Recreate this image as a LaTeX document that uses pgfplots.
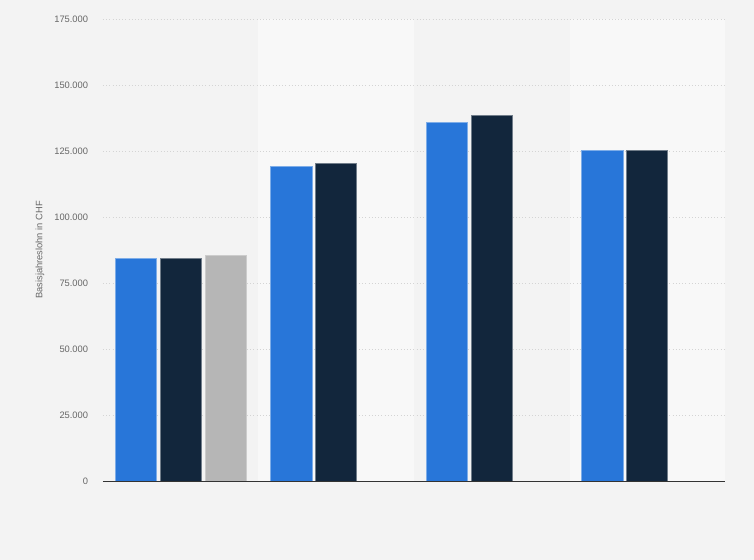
\documentclass[border=0pt]{standalone}
\usepackage{pgfplots}
\pgfplotsset{compat=1.18}
\usepackage{fontspec}
\setmainfont{Liberation Sans}

\definecolor{pagebg}{HTML}{F3F3F3}
\definecolor{bandlight}{HTML}{F8F8F8}
\definecolor{barblue}{HTML}{2876D9}
\definecolor{barnavy}{HTML}{12263C}
\definecolor{bargray}{HTML}{B6B6B6}
\definecolor{ticktext}{HTML}{666666}
\definecolor{gridcol}{HTML}{D4D4D4}

\begin{document}
\begin{tikzpicture}
\begin{axis}[
    name=ax,
    set layers,
    scale only axis,
    width=466.5pt, height=346.5pt,
    xmin=-0.5, xmax=3.5,
    ymin=0, ymax=175000,
    ybar, bar width=0.264,
    xtick=\empty,
    ytick={0,25000,50000,75000,100000,125000,150000,175000},
    scaled y ticks=false,
    y tick label style={
        /pgf/number format/fixed,
        /pgf/number format/1000 sep={.},
        /pgf/number format/assume math mode=true,
        font=\fontsize{7}{8}\selectfont, text=ticktext,
        anchor=east, inner sep=0pt, xshift=-11pt},
    ymajorgrids=true,
    grid style={gridcol, dotted, line width=0.6pt},
    major tick length=0pt,
    axis lines*=left,
    y axis line style={draw=none},
    x axis line style={draw=black!80, line width=0.6pt, -},
    ylabel={Basisjahreslohn in CHF},
    ylabel style={at={(axis description cs:-0.1013,0.5)}, anchor=center,
        font=\fontsize{7}{8}\selectfont, text=ticktext},
]
\pgfplotsextra{%
\begin{pgfonlayer}{axis background}
\fill[pagebg] (rel axis cs:-0.16559,-0.17100) rectangle (rel axis cs:1.04662,1.04113);
\fill[bandlight] (axis cs:0.5,0) rectangle (axis cs:1.5,175000);
\fill[bandlight] (axis cs:2.5,0) rectangle (axis cs:3.5,175000);
\end{pgfonlayer}}

\addplot[fill=barblue, draw=barblue!60!white, line width=0.5pt, bar shift=-0.289]
    coordinates {(0,84400) (1,119200) (2,135900) (3,125300)};
\addplot[fill=barnavy, draw=barnavy!60!white, line width=0.5pt, bar shift=0]
    coordinates {(0,84400) (1,120300) (2,138500) (3,125300)};
\addplot[fill=bargray, draw=bargray!70!white, line width=0.5pt, bar shift=0.289]
    coordinates {(0,85500)};
\end{axis}
\path (ax.south west) ++(-77.25pt,-59.25pt) rectangle ++(565.5pt,420pt);
\end{tikzpicture}
\end{document}
